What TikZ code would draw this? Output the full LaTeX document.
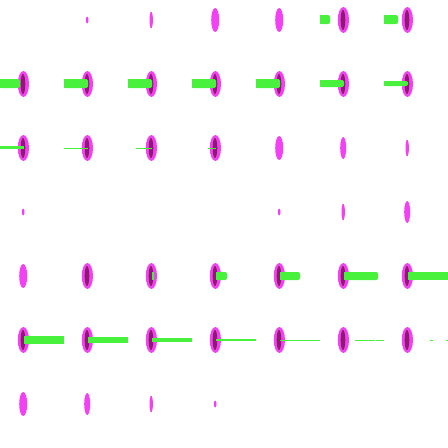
\documentclass[tikz,border=0pt]{standalone}
\usepackage{tikz}
\definecolor{blobpink}{RGB}{242,64,242}
\definecolor{blobcore}{RGB}{140,26,110}
\definecolor{bargreen}{RGB}{72,242,60}

\begin{document}
\begin{tikzpicture}[x=1pt, y=-1pt,
	blob/.style={fill=blobpink, draw=none},
	core/.style={fill=blobcore, draw=none},
	bar/.style={fill=bargreen, draw=none}
	]
\useasboundingbox (0,0) rectangle (448,448);
% small blobs: col/row/x radius/y radius
\foreach \c/\r/\w/\h in {1/0/1.3/3.5, 2/0/1.7/8.3, 3/0/4/12, 4/0/4/12,
	4/2/4/12, 5/2/3/11, 6/2/1.7/8.3,
	0/3/1.3/3.5, 4/3/1.3/3.5, 5/3/1.7/8.3, 6/3/3/11,
	0/4/4/12,
	0/6/4/12, 1/6/3/11, 2/6/1.7/8.3, 3/6/1.3/3.5}
	\fill[blob] ({64*\c+23.2},{64*\r+20}) ellipse [x radius=\w pt, y radius=\h pt];
% full blobs with dark core
\foreach \c/\r in {5/0, 6/0,
	0/1, 1/1, 2/1, 3/1, 4/1, 5/1, 6/1,
	0/2, 1/2, 2/2, 3/2,
	1/4, 2/4, 3/4, 4/4, 5/4, 6/4,
	0/5, 1/5, 2/5, 3/5, 4/5, 5/5, 6/5}
{
	\fill[blob] ({64*\c+23.4},{64*\r+20}) ellipse [x radius=5.6pt, y radius=13pt];
	\fill[core] ({64*\c+23},{64*\r+20}) ellipse [x radius=2.3pt, y radius=10pt];
}
% flat bars: from/to/y/thickness
\foreach \a/\b/\y/\t in {0/24/147.5/3, 64/88/148/1, 136/152/148/1, 208/216/148/1,
	152/154/276/8, 408/448/276/8,
	24/64/340/8, 88/128/340/6, 152/192/340/4, 216/256/340/2, 280/320/340/1,
	355/375/340/1, 376/384/340/1, 430/433/340/1, 446/448/340/1}
	\fill[bar] (\a,\y-\t/2) rectangle (\b,\y+\t/2);
% bars with a round end
\foreach \a/\b/\y/\t in {320/330/19.5/9, 384/398/19.5/9,
	0/20/83.5/9, 64/88/83.5/9, 128/152/83.5/9, 192/216/83.5/9, 256/280/83.5/9,
	320/344/83.5/7, 384/408/83.5/5,
	216/227/276/8, 280/300/276/8, 344/378/276/8}
{
	\fill[bar, rounded corners=2pt] (\a,\y-\t/2) rectangle (\b,\y+\t/2);
	\fill[bar] (\a,\y-\t/2) rectangle ({(\a+\b)/2},\y+\t/2);
}
\end{tikzpicture}
\end{document}
